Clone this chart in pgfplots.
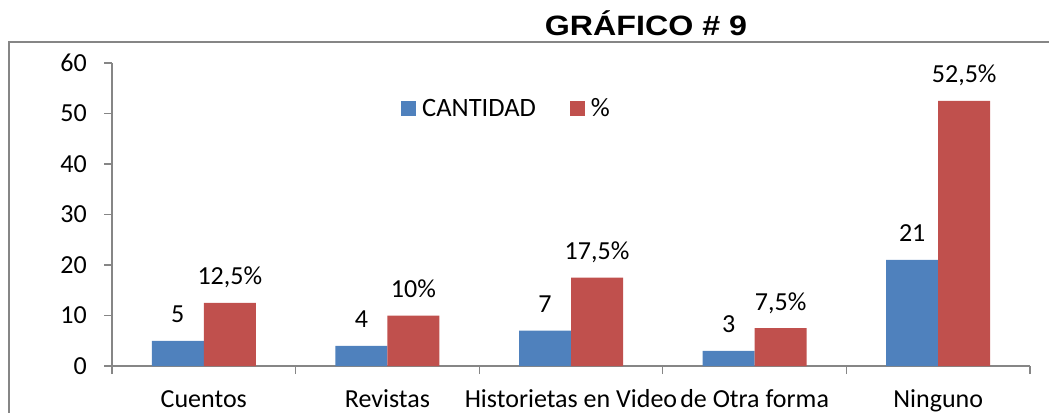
\documentclass[border=0pt]{standalone}
\usepackage{pgfplots}
\pgfplotsset{compat=1.18}
\usepackage{fontspec}
\setmainfont{Carlito}
\newfontfamily\arialfont{Liberation Sans}
\definecolor{cblue}{RGB}{79,129,189}
\definecolor{cred}{RGB}{192,80,77}
\definecolor{axgray}{RGB}{134,134,134}
\begin{document}
\begin{tikzpicture}[x=1bp,y=1bp]
\useasboundingbox (0,0) rectangle (1049,412);
\clip (0,0) rectangle (1049,412);
\draw[axgray, line width=1.5bp] (9,-20) -- (9,370) -- (1080,370);
\node[anchor=base, inner sep=0] at (646,377) {\scalebox{1.15}[1]{\arialfont\bfseries\fontsize{28bp}{30bp}\selectfont GRÁFICO \# 9}};
\begin{axis}[
  at={(112bp,46bp)}, anchor=south west,
  scale only axis, width=918bp, height=303bp,
  ybar=0pt, bar width=52bp,
  xmin=-0.5, xmax=4.5, ymin=0, ymax=60,
  xtick={0,1,2,3,4},
  xticklabels={Cuentos,Revistas,Historietas en Video,de Otra forma,Ninguno},
  minor xtick={-0.5,0.5,1.5,2.5,3.5,4.5},
  ytick={0,10,...,60},
  axis x line*=bottom, axis y line*=left,
  axis line style={-, axgray, line width=1.2bp},
  major x tick style={draw=none},
  minor x tick style={axgray, line width=1.2bp},
  major y tick style={axgray, line width=1.2bp},
  major tick length=8bp, minor tick length=8bp, tick align=outside,
  /pgf/number format/assume math mode=true,
  ticklabel style={font=\fontsize{26bp}{30bp}\selectfont},
  xticklabel style={anchor=base, yshift=-33.5bp},
  yticklabel style={inner sep=0pt, anchor=east, xshift=-17bp},
  clip=false,
  legend style={at={(0.3148,0.851)}, anchor=west, draw=none, fill=none,
    legend columns=2, font=\fontsize{26.5bp}{30bp}\selectfont, inner sep=0pt,
    /tikz/every odd column/.append style={column sep=4bp},
    /tikz/every even column/.append style={column sep=32bp}},
  legend image code/.code={\fill[#1] (0bp,-7.5bp) rectangle (15bp,7.5bp);},
  nodes near coords style={font=\fontsize{26bp}{30bp}\selectfont, anchor=base, yshift=18bp, inner sep=0pt, black},
]
\addplot[fill=cblue, draw=none, nodes near coords] coordinates {(0,5) (1,4) (2,7) (3,3) (4,21)};
\addplot[fill=cred, draw=none, nodes near coords={\pgfmathprintnumber[use comma, assume math mode=true]{\pgfplotspointmeta}\%}] coordinates {(0,12.5) (1,10) (2,17.5) (3,7.5) (4,52.5)};
\legend{CANTIDAD,\%}
\end{axis}
\end{tikzpicture}
\end{document}
